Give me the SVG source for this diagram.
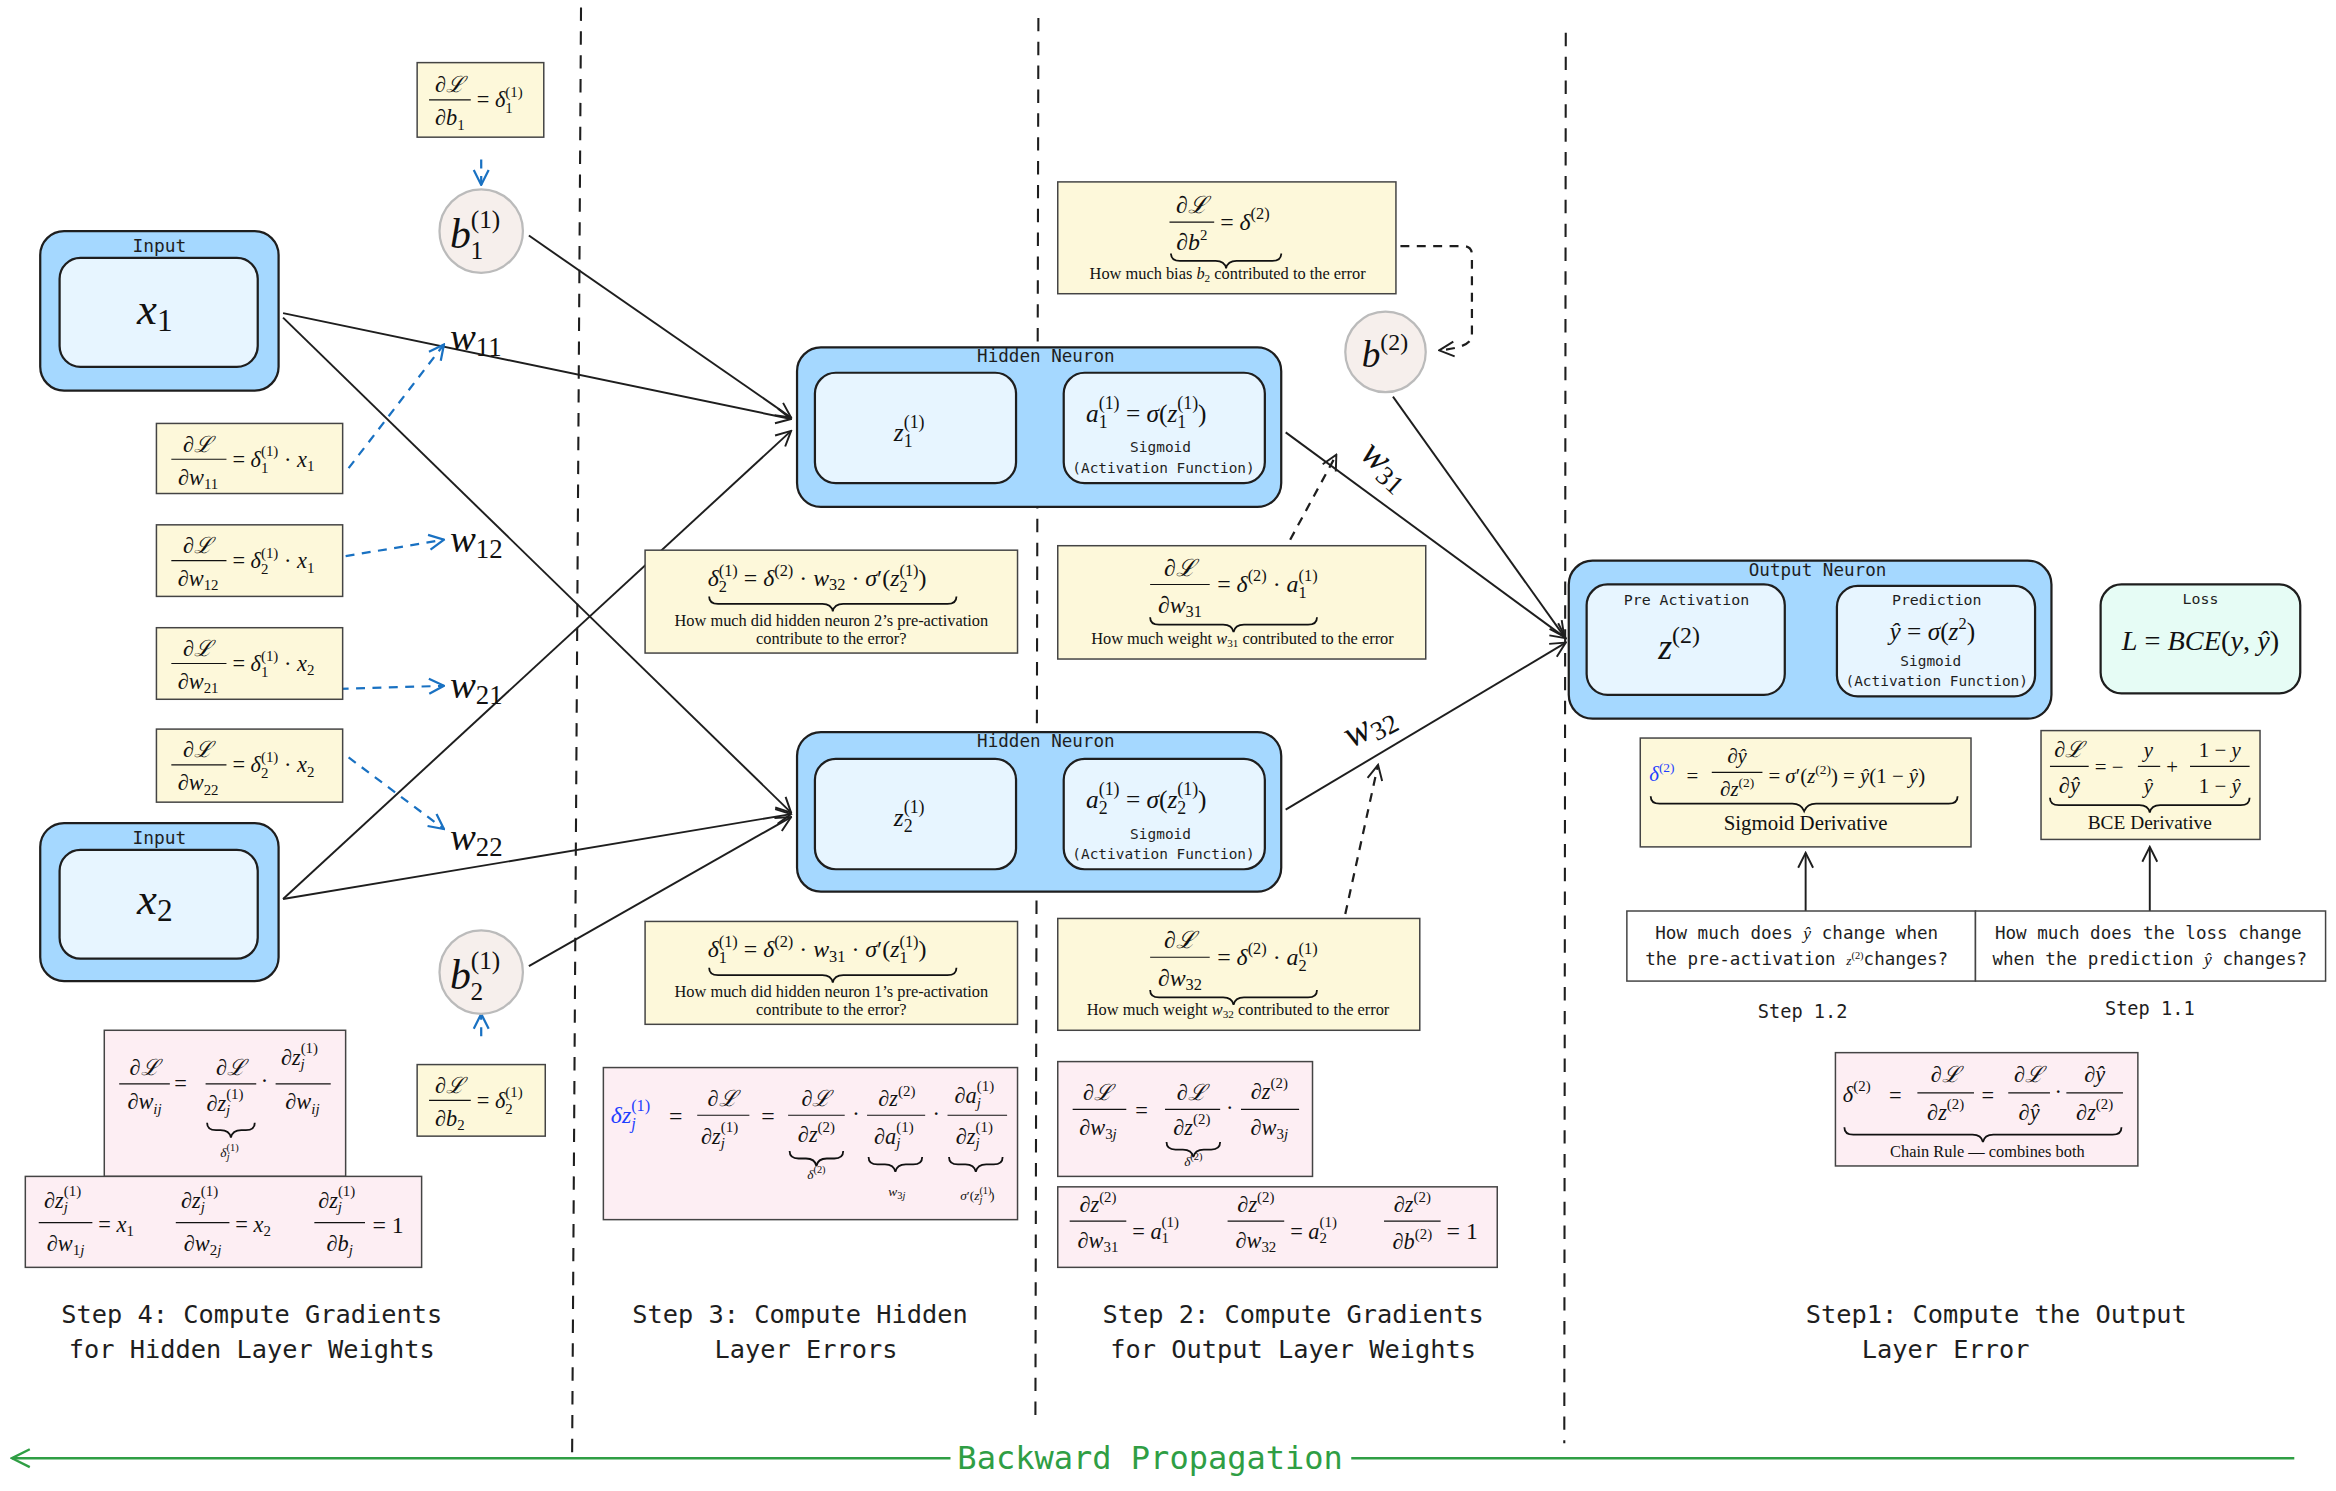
<svg xmlns="http://www.w3.org/2000/svg" width="2336" height="1491" viewBox="0 0 2336 1491">
<style>
.bg{fill:#fff}
.outer{fill:#a5d8ff;stroke:#1e1e1e;stroke-width:1.5}
.inner{fill:#e7f5ff;stroke:#1e1e1e;stroke-width:1.5}
.yb{fill:#fdf8da;stroke:#444;stroke-width:1}
.pb{fill:#fdeef3;stroke:#444;stroke-width:1}
.wb{fill:#fff;stroke:#444;stroke-width:1}
.circ{fill:#f6efec;stroke:#bbb;stroke-width:1.5}
.m{font-family:"Liberation Serif","DejaVu Serif",serif;font-style:italic;fill:#111}
.r{font-family:"Liberation Serif","DejaVu Serif",serif;fill:#111}
.mono{font-family:"DejaVu Sans Mono","Liberation Mono",monospace;fill:#1e1e1e}
.n{font-style:normal}
.fl{stroke:#111;stroke-width:0.8}
.br{fill:none;stroke:#111;stroke-width:1.2}
.c{fill:none;stroke:#1e1e1e;stroke-width:1.3}
.bd{fill:none;stroke:#1971c2;stroke-width:1.5;stroke-dasharray:6 5}
.kd{fill:none;stroke:#1e1e1e;stroke-width:1.5;stroke-dasharray:6 5}
.vd{fill:none;stroke:#1e1e1e;stroke-width:1.4;stroke-dasharray:9 7}
</style>
<defs>
<marker id="a" viewBox="0 0 12 12" refX="11" refY="6" markerWidth="12" markerHeight="12" markerUnits="userSpaceOnUse" orient="auto"><path d="M1,1 L11,6 L1,11" fill="none" stroke="#1e1e1e" stroke-width="1.3"/></marker>
<marker id="ab" viewBox="0 0 12 12" refX="11" refY="6" markerWidth="12" markerHeight="12" markerUnits="userSpaceOnUse" orient="auto"><path d="M1,1 L11,6 L1,11" fill="none" stroke="#1971c2" stroke-width="1.5"/></marker>
<marker id="ag" viewBox="0 0 14 14" refX="13" refY="7" markerWidth="14" markerHeight="14" markerUnits="userSpaceOnUse" orient="auto"><path d="M1,1 L13,7 L1,13" fill="none" stroke="#2f9e44" stroke-width="1.6"/></marker>
</defs>
<rect class="bg" width="2336" height="1491"/>
<g transform="scale(1.4898 1.491)">
<g id="separators">
<path class="vd" d="M390,5 L384,980"/>
<path class="vd" d="M697,12 L695,950"/>
<path class="vd" d="M1051,22 L1050,968"/>
</g>
<g id="backprop">
<path d="M1540,978 L907,978" fill="none" stroke="#2f9e44" stroke-width="1.6"/>
<path d="M638,978 L8,978" fill="none" stroke="#2f9e44" stroke-width="1.6" marker-end="url(#ag)"/>
<text class="mono" x="772" y="985" font-size="21.5" text-anchor="middle" style="fill:#2f9e44">Backward Propagation</text>
</g>

<g id="connectors">
<path class="c" d="M190,210 L531,281" marker-end="url(#a)"/>
<path class="c" d="M190,213 L531,545" marker-end="url(#a)"/>
<path class="c" d="M355,158 L531,280" marker-end="url(#a)"/>
<path class="c" d="M190,603 L531,289" marker-end="url(#a)"/>
<path class="c" d="M190,603 L531,546" marker-end="url(#a)"/>
<path class="c" d="M355,648 L531,548" marker-end="url(#a)"/>
<path class="c" d="M863,290 L1051,428" marker-end="url(#a)"/>
<path class="c" d="M863,543 L1051,431" marker-end="url(#a)"/>
<path class="c" d="M935,266 L1050,427" marker-end="url(#a)"/>
<path class="c" d="M684,287 L711,287" marker-end="url(#a)"/>
<path class="c" d="M684,545 L711,545" marker-end="url(#a)"/>
<path class="c" d="M1202,430 L1229,430" marker-end="url(#a)"/>
<path class="c" d="M1212,611 L1212,572" marker-end="url(#a)"/>
<path class="c" d="M1443,611 L1443,568" marker-end="url(#a)"/>
<path class="bd" d="M323,107 L323,124" marker-end="url(#ab)"/>
<path class="bd" d="M234,314 L298,231" marker-end="url(#ab)"/>
<path class="bd" d="M232,373 L298,362" marker-end="url(#ab)"/>
<path class="bd" d="M228,462 L298,460" marker-end="url(#ab)"/>
<path class="bd" d="M234,508 L298,556" marker-end="url(#ab)"/>
<path class="bd" d="M323,695 L323,680" marker-end="url(#ab)"/>
<path class="kd" d="M940,165 L982,165 Q988,165 988,171 L988,225 Q988,233 966,235" marker-end="url(#a)"/>
<path class="kd" d="M866,362 L897,305" marker-end="url(#a)"/>
<path class="kd" d="M903,613 L925,513" marker-end="url(#a)"/>
</g>

<g id="weights">
<text class="m" x="302" y="235" font-size="26">w<tspan class="n" font-size="18" dy="4">11</tspan></text>
<text class="m" x="302" y="370" font-size="26">w<tspan class="n" font-size="18" dy="4">12</tspan></text>
<text class="m" x="302" y="468" font-size="26">w<tspan class="n" font-size="18" dy="4">21</tspan></text>
<text class="m" x="302" y="570" font-size="26">w<tspan class="n" font-size="18" dy="4">22</tspan></text>
<text class="m" x="912" y="306" font-size="26" transform="rotate(42 912 306)">w<tspan class="n" font-size="18" dy="4">31</tspan></text>
<text class="m" x="907" y="502" font-size="26" transform="rotate(-28 907 502)">w<tspan class="n" font-size="18" dy="4">32</tspan></text>
</g>

<g id="input1">
<rect class="outer" x="27" y="155" width="160" height="107" rx="16"/>
<rect class="inner" x="40" y="173" width="133" height="73" rx="14"/>
<text class="mono" x="107" y="169" font-size="12" text-anchor="middle">Input</text>
<text class="m" x="92" y="217" font-size="30">x<tspan class="n" font-size="21" dy="5">1</tspan></text>
</g>
<g id="input2">
<rect class="outer" x="27" y="552" width="160" height="106" rx="16"/>
<rect class="inner" x="40" y="570" width="133" height="73" rx="14"/>
<text class="mono" x="107" y="566" font-size="12" text-anchor="middle">Input</text>
<text class="m" x="92" y="613" font-size="30">x<tspan class="n" font-size="21" dy="5">2</tspan></text>
</g>

<g id="b1">
<circle class="circ" cx="323" cy="155" r="28"/>
<text class="m" x="302" y="166" font-size="28">b<tspan class="n" font-size="17" dy="-13">(1)</tspan><tspan class="n" font-size="17" dx="-20" dy="21">1</tspan></text>
</g>
<g id="b2">
<circle class="circ" cx="323" cy="652" r="28"/>
<text class="m" x="302" y="663" font-size="28">b<tspan class="n" font-size="17" dy="-13">(1)</tspan><tspan class="n" font-size="17" dx="-20" dy="21">2</tspan></text>
</g>
<g id="bout">
<circle class="circ" cx="930" cy="236" r="27"/>
<text class="m" x="914" y="246" font-size="25">b<tspan class="n" font-size="16" dy="-11">(2)</tspan></text>
</g>

<!-- Step 4 yellow -->
<g id="gb1">
<rect class="yb" x="280" y="42" width="85" height="50"/>
<text class="m" x="302" y="62" font-size="15" text-anchor="middle">∂ℒ</text>
<line class="fl" x1="288" y1="67" x2="316" y2="67"/>
<text class="m" x="302" y="84" font-size="15" text-anchor="middle">∂b<tspan class="n" font-size="10" dy="3">1</tspan></text>
<text class="m" x="320" y="72" font-size="15"><tspan class="n">= </tspan>δ<tspan class="n" font-size="10" dy="-7">(1)</tspan><tspan class="n" font-size="10" dx="-11.7" dy="11">1</tspan></text>
</g>
<g id="gw11">
<rect class="yb" x="105" y="284" width="125" height="47"/>
<text class="m" x="133" y="303" font-size="15" text-anchor="middle">∂ℒ</text>
<line class="fl" x1="115" y1="308" x2="152" y2="308"/>
<text class="m" x="133" y="325" font-size="15" text-anchor="middle">∂w<tspan class="n" font-size="10" dy="3">11</tspan></text>
<text class="m" x="156" y="313" font-size="15"><tspan class="n">= </tspan>δ<tspan class="n" font-size="10" dy="-7">(1)</tspan><tspan class="n" font-size="10" dx="-11.7" dy="11">1</tspan><tspan class="n" dx="6.7" dy="-4"> · </tspan>x<tspan class="n" font-size="10" dy="3">1</tspan></text>
</g>
<g id="gw12">
<rect class="yb" x="105" y="352" width="125" height="48"/>
<text class="m" x="133" y="371" font-size="15" text-anchor="middle">∂ℒ</text>
<line class="fl" x1="115" y1="376" x2="152" y2="376"/>
<text class="m" x="133" y="393" font-size="15" text-anchor="middle">∂w<tspan class="n" font-size="10" dy="3">12</tspan></text>
<text class="m" x="156" y="381" font-size="15"><tspan class="n">= </tspan>δ<tspan class="n" font-size="10" dy="-7">(1)</tspan><tspan class="n" font-size="10" dx="-11.7" dy="11">2</tspan><tspan class="n" dx="6.7" dy="-4"> · </tspan>x<tspan class="n" font-size="10" dy="3">1</tspan></text>
</g>
<g id="gw21">
<rect class="yb" x="105" y="421" width="125" height="48"/>
<text class="m" x="133" y="440" font-size="15" text-anchor="middle">∂ℒ</text>
<line class="fl" x1="115" y1="445" x2="152" y2="445"/>
<text class="m" x="133" y="462" font-size="15" text-anchor="middle">∂w<tspan class="n" font-size="10" dy="3">21</tspan></text>
<text class="m" x="156" y="450" font-size="15"><tspan class="n">= </tspan>δ<tspan class="n" font-size="10" dy="-7">(1)</tspan><tspan class="n" font-size="10" dx="-11.7" dy="11">1</tspan><tspan class="n" dx="6.7" dy="-4"> · </tspan>x<tspan class="n" font-size="10" dy="3">2</tspan></text>
</g>
<g id="gw22">
<rect class="yb" x="105" y="489" width="125" height="49"/>
<text class="m" x="133" y="508" font-size="15" text-anchor="middle">∂ℒ</text>
<line class="fl" x1="115" y1="513" x2="152" y2="513"/>
<text class="m" x="133" y="530" font-size="15" text-anchor="middle">∂w<tspan class="n" font-size="10" dy="3">22</tspan></text>
<text class="m" x="156" y="518" font-size="15"><tspan class="n">= </tspan>δ<tspan class="n" font-size="10" dy="-7">(1)</tspan><tspan class="n" font-size="10" dx="-11.7" dy="11">2</tspan><tspan class="n" dx="6.7" dy="-4"> · </tspan>x<tspan class="n" font-size="10" dy="3">2</tspan></text>
</g>
<g id="gb2">
<rect class="yb" x="280" y="714" width="86" height="48"/>
<text class="m" x="302" y="733" font-size="15" text-anchor="middle">∂ℒ</text>
<line class="fl" x1="288" y1="738" x2="316" y2="738"/>
<text class="m" x="302" y="755" font-size="15" text-anchor="middle">∂b<tspan class="n" font-size="10" dy="3">2</tspan></text>
<text class="m" x="320" y="743" font-size="15"><tspan class="n">= </tspan>δ<tspan class="n" font-size="10" dy="-7">(1)</tspan><tspan class="n" font-size="10" dx="-11.7" dy="11">2</tspan></text>
</g>

<!-- Step 4 pink -->
<g id="pwij">
<rect class="pb" x="70" y="691" width="162" height="98"/>
<text class="m" x="97" y="721" font-size="15" text-anchor="middle">∂ℒ</text>
<line class="fl" x1="80" y1="727" x2="114" y2="727"/>
<text class="m" x="97" y="744" font-size="15" text-anchor="middle">∂w<tspan font-size="10" dy="3">ij</tspan></text>
<text class="r" x="117" y="732" font-size="15">=</text>
<text class="m" x="155" y="721" font-size="15" text-anchor="middle">∂ℒ</text>
<line class="fl" x1="138" y1="727" x2="172" y2="727"/>
<text class="m" x="151" y="745" font-size="15" text-anchor="middle">∂z<tspan class="n" font-size="10" dy="-8">(1)</tspan><tspan font-size="10" dx="-11.7" dy="11">j</tspan></text>
<text class="r" x="175" y="730" font-size="15">·</text>
<text class="m" x="201" y="714" font-size="15" text-anchor="middle">∂z<tspan class="n" font-size="10" dy="-8">(1)</tspan><tspan font-size="10" dx="-11.7" dy="11">j</tspan></text>
<line class="fl" x1="185" y1="727" x2="222" y2="727"/>
<text class="m" x="203" y="744" font-size="15" text-anchor="middle">∂w<tspan font-size="10" dy="3">ij</tspan></text>
<path class="br" d="M139,753 q0,5 6,5 h3 q6,0 7,5 q1,-5 7,-5 h3 q6,0 6,-5"/>
<text class="m" x="154" y="776" font-size="9" text-anchor="middle">δ<tspan class="n" font-size="7" dy="-4">(1)</tspan><tspan font-size="7" dx="-8" dy="6">j</tspan></text>
</g>
<g id="ppartials">
<rect class="pb" x="17" y="789" width="266" height="61"/>
<text class="m" x="42" y="810" font-size="15" text-anchor="middle">∂z<tspan class="n" font-size="10" dy="-8">(1)</tspan><tspan font-size="10" dx="-11.7" dy="11">j</tspan></text>
<line class="fl" x1="26" y1="820" x2="62" y2="820"/>
<text class="m" x="44" y="839" font-size="15" text-anchor="middle">∂w<tspan class="n" font-size="10" dy="3">1</tspan><tspan font-size="10">j</tspan></text>
<text class="m" x="66" y="826" font-size="15"><tspan class="n">= </tspan>x<tspan class="n" font-size="10" dy="3">1</tspan></text>
<text class="m" x="134" y="810" font-size="15" text-anchor="middle">∂z<tspan class="n" font-size="10" dy="-8">(1)</tspan><tspan font-size="10" dx="-11.7" dy="11">j</tspan></text>
<line class="fl" x1="118" y1="820" x2="154" y2="820"/>
<text class="m" x="136" y="839" font-size="15" text-anchor="middle">∂w<tspan class="n" font-size="10" dy="3">2</tspan><tspan font-size="10">j</tspan></text>
<text class="m" x="158" y="826" font-size="15"><tspan class="n">= </tspan>x<tspan class="n" font-size="10" dy="3">2</tspan></text>
<text class="m" x="226" y="810" font-size="15" text-anchor="middle">∂z<tspan class="n" font-size="10" dy="-8">(1)</tspan><tspan font-size="10" dx="-11.7" dy="11">j</tspan></text>
<line class="fl" x1="211" y1="820" x2="245" y2="820"/>
<text class="m" x="228" y="839" font-size="15" text-anchor="middle">∂b<tspan font-size="10" dy="3">j</tspan></text>
<text class="r" x="250" y="827" font-size="16">= 1</text>
</g>

<!-- Hidden neurons -->
<g id="hidden1">
<rect class="outer" x="535" y="233" width="325" height="107" rx="16"/>
<rect class="inner" x="547" y="250" width="135" height="74" rx="14"/>
<rect class="inner" x="714" y="250" width="135" height="74" rx="14"/>
<text class="mono" x="702" y="243" font-size="11.8" text-anchor="middle">Hidden Neuron</text>
<text class="m" x="600" y="296" font-size="17">z<tspan class="n" font-size="12" dy="-9">(1)</tspan><tspan class="n" font-size="12" dx="-14" dy="13">1</tspan></text>
<text class="m" x="729" y="283" font-size="17">a<tspan class="n" font-size="12" dy="-9">(1)</tspan><tspan class="n" font-size="12" dx="-14" dy="13">1</tspan><tspan class="n" dx="8" dy="-4"> = </tspan>σ<tspan class="n">(</tspan>z<tspan class="n" font-size="12" dy="-9">(1)</tspan><tspan class="n" font-size="12" dx="-14" dy="13">1</tspan><tspan class="n" dx="8" dy="-4">)</tspan></text>
<text class="mono" x="779" y="303" font-size="9.7" text-anchor="middle">Sigmoid</text>
<text class="mono" x="781" y="317" font-size="9.7" text-anchor="middle">(Activation Function)</text>
</g>
<g id="hidden2">
<rect class="outer" x="535" y="491" width="325" height="107" rx="16"/>
<rect class="inner" x="547" y="509" width="135" height="74" rx="14"/>
<rect class="inner" x="714" y="509" width="135" height="74" rx="14"/>
<text class="mono" x="702" y="501" font-size="11.8" text-anchor="middle">Hidden Neuron</text>
<text class="m" x="600" y="554" font-size="17">z<tspan class="n" font-size="12" dy="-9">(1)</tspan><tspan class="n" font-size="12" dx="-14" dy="13">2</tspan></text>
<text class="m" x="729" y="542" font-size="17">a<tspan class="n" font-size="12" dy="-9">(1)</tspan><tspan class="n" font-size="12" dx="-14" dy="13">2</tspan><tspan class="n" dx="8" dy="-4"> = </tspan>σ<tspan class="n">(</tspan>z<tspan class="n" font-size="12" dy="-9">(1)</tspan><tspan class="n" font-size="12" dx="-14" dy="13">2</tspan><tspan class="n" dx="8" dy="-4">)</tspan></text>
<text class="mono" x="779" y="563" font-size="9.7" text-anchor="middle">Sigmoid</text>
<text class="mono" x="781" y="576" font-size="9.7" text-anchor="middle">(Activation Function)</text>
</g>

<!-- Step 3 -->
<g id="d2h">
<rect class="yb" x="433" y="369" width="250" height="69"/>
<text class="m" x="475" y="393" font-size="16">δ<tspan class="n" font-size="11" dy="-7">(1)</tspan><tspan class="n" font-size="11" dx="-12.8" dy="11">2</tspan><tspan class="n" dx="7.3" dy="-4"> = </tspan>δ<tspan class="n" font-size="11" dy="-7">(2)</tspan><tspan class="n" dy="7"> · </tspan>w<tspan class="n" font-size="11" dy="3">32</tspan><tspan class="n" dy="-3"> · </tspan>σ<tspan class="n">′(</tspan>z<tspan class="n" font-size="11" dy="-7">(1)</tspan><tspan class="n" font-size="11" dx="-12.8" dy="11">2</tspan><tspan class="n" dx="7.3" dy="-4">)</tspan></text>
<path class="br" d="M476,400 q0,5 6,5 h70 q6,0 7,5 q1,-5 7,-5 h70 q6,0 6,-5"/>
<text class="r" x="558" y="420" font-size="11" text-anchor="middle">How much did hidden neuron 2’s pre-activation</text>
<text class="r" x="558" y="432" font-size="11" text-anchor="middle">contribute to the error?</text>
</g>
<g id="d1h">
<rect class="yb" x="433" y="618" width="250" height="69"/>
<text class="m" x="475" y="642" font-size="16">δ<tspan class="n" font-size="11" dy="-7">(1)</tspan><tspan class="n" font-size="11" dx="-12.8" dy="11">1</tspan><tspan class="n" dx="7.3" dy="-4"> = </tspan>δ<tspan class="n" font-size="11" dy="-7">(2)</tspan><tspan class="n" dy="7"> · </tspan>w<tspan class="n" font-size="11" dy="3">31</tspan><tspan class="n" dy="-3"> · </tspan>σ<tspan class="n">′(</tspan>z<tspan class="n" font-size="11" dy="-7">(1)</tspan><tspan class="n" font-size="11" dx="-12.8" dy="11">1</tspan><tspan class="n" dx="7.3" dy="-4">)</tspan></text>
<path class="br" d="M476,649 q0,5 6,5 h70 q6,0 7,5 q1,-5 7,-5 h70 q6,0 6,-5"/>
<text class="r" x="558" y="669" font-size="11" text-anchor="middle">How much did hidden neuron 1’s pre-activation</text>
<text class="r" x="558" y="681" font-size="11" text-anchor="middle">contribute to the error?</text>
</g>
<g id="dzj">
<rect class="pb" x="405" y="716" width="278" height="102"/>
<text x="410" y="753" font-size="16" class="m" style="fill:#1f3fff">δz<tspan class="n" font-size="11" dy="-8">(1)</tspan><tspan font-size="11" dx="-12.8" dy="12">j</tspan></text>
<text class="r" x="449" y="754" font-size="16">=</text>
<text class="m" x="485" y="742" font-size="15" text-anchor="middle">∂ℒ</text>
<line class="fl" x1="468" y1="748" x2="503" y2="748"/>
<text class="m" x="483" y="767" font-size="15" text-anchor="middle">∂z<tspan class="n" font-size="10" dy="-8">(1)</tspan><tspan font-size="10" dx="-11.7" dy="11">j</tspan></text>
<text class="r" x="511" y="754" font-size="16">=</text>
<text class="m" x="548" y="742" font-size="15" text-anchor="middle">∂ℒ</text>
<line class="fl" x1="529" y1="748" x2="567" y2="748"/>
<text class="m" x="548" y="766" font-size="15" text-anchor="middle">∂z<tspan class="n" font-size="10" dy="-7">(2)</tspan></text>
<text class="r" x="572" y="752" font-size="15">·</text>
<text class="m" x="602" y="742" font-size="15" text-anchor="middle">∂z<tspan class="n" font-size="10" dy="-7">(2)</tspan></text>
<line class="fl" x1="582" y1="748" x2="621" y2="748"/>
<text class="m" x="600" y="767" font-size="15" text-anchor="middle">∂a<tspan class="n" font-size="10" dy="-8">(1)</tspan><tspan font-size="10" dx="-11.7" dy="11">j</tspan></text>
<text class="r" x="626" y="752" font-size="15">·</text>
<text class="m" x="654" y="740" font-size="15" text-anchor="middle">∂a<tspan class="n" font-size="10" dy="-8">(1)</tspan><tspan font-size="10" dx="-11.7" dy="11">j</tspan></text>
<line class="fl" x1="636" y1="748" x2="676" y2="748"/>
<text class="m" x="654" y="767" font-size="15" text-anchor="middle">∂z<tspan class="n" font-size="10" dy="-8">(1)</tspan><tspan font-size="10" dx="-11.7" dy="11">j</tspan></text>
<path class="br" d="M530,772 q0,5 6,5 h5 q6,0 7,5 q1,-5 7,-5 h5 q6,0 6,-5"/>
<text class="m" x="548" y="791" font-size="9" text-anchor="middle">δ<tspan class="n" font-size="7" dy="-4">(2)</tspan></text>
<path class="br" d="M583,776 q0,5 6,5 h5 q6,0 7,5 q1,-5 7,-5 h5 q6,0 6,-5"/>
<text class="m" x="602" y="802" font-size="9" text-anchor="middle">w<tspan class="n" font-size="7" dy="2">3</tspan><tspan font-size="7">j</tspan></text>
<path class="br" d="M637,776 q0,5 6,5 h5 q6,0 7,5 q1,-5 7,-5 h5 q6,0 6,-5"/>
<text class="m" x="656" y="805" font-size="9" text-anchor="middle">σ<tspan class="n">′(</tspan>z<tspan class="n" font-size="7" dy="-4">(1)</tspan><tspan font-size="7" dx="-8" dy="6">j</tspan><tspan class="n" dx="5" dy="-2">)</tspan></text>
</g>

<!-- Step 2 -->
<g id="gdb2">
<rect class="yb" x="710" y="122" width="227" height="75"/>
<text class="m" x="800" y="143" font-size="16" text-anchor="middle">∂ℒ</text>
<line class="fl" x1="785" y1="149" x2="815" y2="149"/>
<text class="m" x="800" y="168" font-size="16" text-anchor="middle">∂b<tspan class="n" font-size="10" dy="-7">2</tspan></text>
<text class="m" x="819" y="154" font-size="16"><tspan class="n">= </tspan>δ<tspan class="n" font-size="11" dy="-7">(2)</tspan></text>
<path class="br" d="M786,170 q0,5 6,5 h24 q6,0 7,5 q1,-5 7,-5 h24 q6,0 6,-5"/>
<text class="r" x="824" y="187" font-size="11" text-anchor="middle">How much bias <tspan font-style="italic">b</tspan><tspan font-size="7.5" dy="2">2</tspan><tspan dy="-2"> contributed to the error</tspan></text>
</g>
<g id="gdw31">
<rect class="yb" x="710" y="366" width="247" height="76"/>
<text class="m" x="792" y="386" font-size="16" text-anchor="middle">∂ℒ</text>
<line class="fl" x1="772" y1="392" x2="812" y2="392"/>
<text class="m" x="792" y="411" font-size="16" text-anchor="middle">∂w<tspan class="n" font-size="11" dy="3">31</tspan></text>
<text class="m" x="817" y="397" font-size="16"><tspan class="n">= </tspan>δ<tspan class="n" font-size="11" dy="-7">(2)</tspan><tspan class="n" dy="7"> · </tspan>a<tspan class="n" font-size="11" dy="-7">(1)</tspan><tspan class="n" font-size="11" dx="-12.8" dy="11">1</tspan></text>
<path class="br" d="M772,414 q0,5 6,5 h43 q6,0 7,5 q1,-5 7,-5 h43 q6,0 6,-5"/>
<text class="r" x="834" y="432" font-size="11" text-anchor="middle">How much weight <tspan font-style="italic">w</tspan><tspan font-size="7.5" dy="2">31</tspan><tspan dy="-2"> contributed to the error</tspan></text>
</g>
<g id="gdw32">
<rect class="yb" x="710" y="616" width="243" height="75"/>
<text class="m" x="792" y="636" font-size="16" text-anchor="middle">∂ℒ</text>
<line class="fl" x1="772" y1="642" x2="812" y2="642"/>
<text class="m" x="792" y="661" font-size="16" text-anchor="middle">∂w<tspan class="n" font-size="11" dy="3">32</tspan></text>
<text class="m" x="817" y="647" font-size="16"><tspan class="n">= </tspan>δ<tspan class="n" font-size="11" dy="-7">(2)</tspan><tspan class="n" dy="7"> · </tspan>a<tspan class="n" font-size="11" dy="-7">(1)</tspan><tspan class="n" font-size="11" dx="-12.8" dy="11">2</tspan></text>
<path class="br" d="M772,664 q0,5 6,5 h43 q6,0 7,5 q1,-5 7,-5 h43 q6,0 6,-5"/>
<text class="r" x="831" y="681" font-size="11" text-anchor="middle">How much weight <tspan font-style="italic">w</tspan><tspan font-size="7.5" dy="2">32</tspan><tspan dy="-2"> contributed to the error</tspan></text>
</g>
<g id="pw3j">
<rect class="pb" x="710" y="712" width="171" height="77"/>
<text class="m" x="737" y="738" font-size="15" text-anchor="middle">∂ℒ</text>
<line class="fl" x1="720" y1="744" x2="756" y2="744"/>
<text class="m" x="737" y="761" font-size="15" text-anchor="middle">∂w<tspan class="n" font-size="10" dy="3">3</tspan><tspan font-size="10">j</tspan></text>
<text class="r" x="762" y="750" font-size="15">=</text>
<text class="m" x="800" y="738" font-size="15" text-anchor="middle">∂ℒ</text>
<line class="fl" x1="782" y1="744" x2="819" y2="744"/>
<text class="m" x="800" y="761" font-size="15" text-anchor="middle">∂z<tspan class="n" font-size="10" dy="-7">(2)</tspan></text>
<text class="r" x="823" y="748" font-size="15">·</text>
<text class="m" x="852" y="737" font-size="15" text-anchor="middle">∂z<tspan class="n" font-size="10" dy="-7">(2)</tspan></text>
<line class="fl" x1="833" y1="744" x2="872" y2="744"/>
<text class="m" x="852" y="761" font-size="15" text-anchor="middle">∂w<tspan class="n" font-size="10" dy="3">3</tspan><tspan font-size="10">j</tspan></text>
<path class="br" d="M783,766 q0,5 6,5 h5 q6,0 7,5 q1,-5 7,-5 h5 q6,0 6,-5"/>
<text class="m" x="801" y="782" font-size="9" text-anchor="middle">δ<tspan class="n" font-size="7" dy="-4">(2)</tspan></text>
</g>
<g id="pdz2">
<rect class="pb" x="710" y="796" width="295" height="54"/>
<text class="m" x="737" y="813" font-size="15" text-anchor="middle">∂z<tspan class="n" font-size="10" dy="-7">(2)</tspan></text>
<line class="fl" x1="718" y1="819" x2="756" y2="819"/>
<text class="m" x="737" y="837" font-size="15" text-anchor="middle">∂w<tspan class="n" font-size="10" dy="3">31</tspan></text>
<text class="m" x="760" y="831" font-size="15"><tspan class="n">= </tspan>a<tspan class="n" font-size="10" dy="-8">(1)</tspan><tspan class="n" font-size="10" dx="-11.7" dy="11">1</tspan></text>
<text class="m" x="843" y="813" font-size="15" text-anchor="middle">∂z<tspan class="n" font-size="10" dy="-7">(2)</tspan></text>
<line class="fl" x1="824" y1="819" x2="862" y2="819"/>
<text class="m" x="843" y="837" font-size="15" text-anchor="middle">∂w<tspan class="n" font-size="10" dy="3">32</tspan></text>
<text class="m" x="866" y="831" font-size="15"><tspan class="n">= </tspan>a<tspan class="n" font-size="10" dy="-8">(1)</tspan><tspan class="n" font-size="10" dx="-11.7" dy="11">2</tspan></text>
<text class="m" x="948" y="813" font-size="15" text-anchor="middle">∂z<tspan class="n" font-size="10" dy="-7">(2)</tspan></text>
<line class="fl" x1="929" y1="819" x2="967" y2="819"/>
<text class="m" x="948" y="838" font-size="15" text-anchor="middle">∂b<tspan class="n" font-size="10" dy="-7">(2)</tspan></text>
<text class="r" x="971" y="831" font-size="16">= 1</text>
</g>

<!-- Output neuron -->
<g id="output">
<rect class="outer" x="1053" y="376" width="324" height="106" rx="16"/>
<rect class="inner" x="1065" y="392" width="133" height="74" rx="14"/>
<rect class="inner" x="1233" y="393" width="133" height="74" rx="14"/>
<text class="mono" x="1220" y="386" font-size="11.8" text-anchor="middle">Output Neuron</text>
<text class="mono" x="1132" y="406" font-size="10" text-anchor="middle">Pre Activation</text>
<text class="m" x="1113" y="442" font-size="24">z<tspan class="n" font-size="16" dy="-11">(2)</tspan></text>
<text class="mono" x="1300" y="406" font-size="10" text-anchor="middle">Prediction</text>
<text class="m" x="1297" y="429" font-size="17" text-anchor="middle">ŷ<tspan class="n"> = </tspan>σ<tspan class="n">(</tspan>z<tspan class="n" font-size="11" dy="-7">2</tspan><tspan class="n" dy="7">)</tspan></text>
<text class="mono" x="1296" y="447" font-size="9.7" text-anchor="middle">Sigmoid</text>
<text class="mono" x="1300" y="460" font-size="9.7" text-anchor="middle">(Activation Function)</text>
</g>
<g id="loss">
<rect x="1410" y="392" width="134" height="73" rx="14" fill="#e6fcf5" stroke="#1e1e1e" stroke-width="1.5"/>
<text class="mono" x="1477" y="405" font-size="10" text-anchor="middle">Loss</text>
<text class="m" x="1477" y="436" font-size="19" text-anchor="middle">L<tspan class="n"> = </tspan>BCE<tspan class="n">(</tspan>y<tspan class="n">, </tspan>ŷ<tspan class="n">)</tspan></text>
</g>

<!-- Step 1 -->
<g id="sigder">
<rect class="yb" x="1101" y="495" width="222" height="73"/>
<text x="1107" y="524" font-size="14" class="m" style="fill:#1f3fff">δ<tspan class="n" font-size="9" dy="-6">(2)</tspan></text>
<text class="r" x="1132" y="525" font-size="14">=</text>
<text class="m" x="1166" y="512" font-size="14" text-anchor="middle">∂ŷ</text>
<line class="fl" x1="1149" y1="518" x2="1183" y2="518"/>
<text class="m" x="1166" y="534" font-size="14" text-anchor="middle">∂z<tspan class="n" font-size="9" dy="-6">(2)</tspan></text>
<text class="m" x="1187" y="525" font-size="14"><tspan class="n">= </tspan>σ<tspan class="n">′(</tspan>z<tspan class="n" font-size="9" dy="-6">(2)</tspan><tspan class="n" dy="6">) = </tspan>ŷ<tspan class="n">(1 − </tspan>ŷ<tspan class="n">)</tspan></text>
<path class="br" d="M1108,534 q0,5 6,5 h89 q6,0 8,5 q2,-5 8,-5 h89 q6,0 6,-5"/>
<text class="r" x="1212" y="557" font-size="14" text-anchor="middle">Sigmoid Derivative</text>
</g>
<g id="bceder">
<rect class="yb" x="1370" y="490" width="147" height="73"/>
<text class="m" x="1389" y="508" font-size="15" text-anchor="middle">∂ℒ</text>
<line class="fl" x1="1376" y1="514" x2="1402" y2="514"/>
<text class="m" x="1389" y="532" font-size="15" text-anchor="middle">∂ŷ</text>
<text class="r" x="1406" y="519" font-size="14">= −</text>
<text class="m" x="1442" y="508" font-size="14" text-anchor="middle">y</text>
<line class="fl" x1="1435" y1="514" x2="1450" y2="514"/>
<text class="m" x="1442" y="532" font-size="14" text-anchor="middle">ŷ</text>
<text class="r" x="1454" y="519" font-size="14">+</text>
<text class="m" x="1490" y="508" font-size="14" text-anchor="middle"><tspan class="n">1 − </tspan>y</text>
<line class="fl" x1="1470" y1="514" x2="1510" y2="514"/>
<text class="m" x="1490" y="532" font-size="14" text-anchor="middle"><tspan class="n">1 − </tspan>ŷ</text>
<path class="br" d="M1376,535 q0,5 6,5 h54 q6,0 7,5 q1,-5 7,-5 h54 q6,0 6,-5"/>
<text class="r" x="1443" y="556" font-size="13" text-anchor="middle">BCE Derivative</text>
</g>
<g id="q12">
<rect class="wb" x="1092" y="611" width="234" height="47"/>
<text class="mono" x="1206" y="630" font-size="11.8" text-anchor="middle">How much does <tspan class="m" font-family="Liberation Serif">ŷ</tspan> change when</text>
<text class="mono" x="1206" y="647" font-size="11.8" text-anchor="middle">the pre-activation <tspan class="m" font-family="Liberation Serif" font-size="9">z<tspan font-style="normal" font-size="7" dy="-4">(2)</tspan></tspan><tspan dy="4">changes?</tspan></text>
</g>
<g id="q11">
<rect class="wb" x="1326" y="611" width="235" height="47"/>
<text class="mono" x="1442" y="630" font-size="11.8" text-anchor="middle">How much does the loss change</text>
<text class="mono" x="1443" y="647" font-size="11.8" text-anchor="middle">when the prediction <tspan class="m" font-family="Liberation Serif">ŷ</tspan> changes?</text>
</g>
<g id="chain">
<rect class="pb" x="1232" y="706" width="203" height="76"/>
<text class="m" x="1237" y="739" font-size="15">δ<tspan class="n" font-size="10" dy="-7">(2)</tspan></text>
<text class="r" x="1268" y="740" font-size="15">=</text>
<text class="m" x="1306" y="726" font-size="15" text-anchor="middle">∂ℒ</text>
<line class="fl" x1="1287" y1="733" x2="1325" y2="733"/>
<text class="m" x="1306" y="751" font-size="15" text-anchor="middle">∂z<tspan class="n" font-size="10" dy="-7">(2)</tspan></text>
<text class="r" x="1330" y="740" font-size="15">=</text>
<text class="m" x="1362" y="726" font-size="15" text-anchor="middle">∂ℒ</text>
<line class="fl" x1="1348" y1="733" x2="1376" y2="733"/>
<text class="m" x="1362" y="751" font-size="15" text-anchor="middle">∂ŷ</text>
<text class="r" x="1379" y="737" font-size="15">·</text>
<text class="m" x="1406" y="726" font-size="15" text-anchor="middle">∂ŷ</text>
<line class="fl" x1="1387" y1="733" x2="1425" y2="733"/>
<text class="m" x="1406" y="751" font-size="15" text-anchor="middle">∂z<tspan class="n" font-size="10" dy="-7">(2)</tspan></text>
<path class="br" d="M1238,756 q0,5 6,5 h80 q6,0 7,5 q1,-5 7,-5 h80 q6,0 6,-5"/>
<text class="r" x="1334" y="776" font-size="11" text-anchor="middle">Chain Rule — combines both</text>
</g>

<g id="labels">
<text class="mono" x="169" y="887" font-size="17" text-anchor="middle">Step 4: Compute Gradients</text>
<text class="mono" x="169" y="911" font-size="17" text-anchor="middle">for Hidden Layer Weights</text>
<text class="mono" x="537" y="887" font-size="17" text-anchor="middle">Step 3: Compute Hidden</text>
<text class="mono" x="541" y="911" font-size="17" text-anchor="middle">Layer Errors</text>
<text class="mono" x="868" y="887" font-size="17" text-anchor="middle">Step 2: Compute Gradients</text>
<text class="mono" x="868" y="911" font-size="17" text-anchor="middle">for Output Layer Weights</text>
<text class="mono" x="1340" y="887" font-size="17" text-anchor="middle">Step1: Compute the Output</text>
<text class="mono" x="1306" y="911" font-size="17" text-anchor="middle">Layer Error</text>
<text class="mono" x="1210" y="683" font-size="12.5" text-anchor="middle">Step 1.2</text>
<text class="mono" x="1443" y="681" font-size="12.5" text-anchor="middle">Step 1.1</text>
</g>
</g>
</svg>
